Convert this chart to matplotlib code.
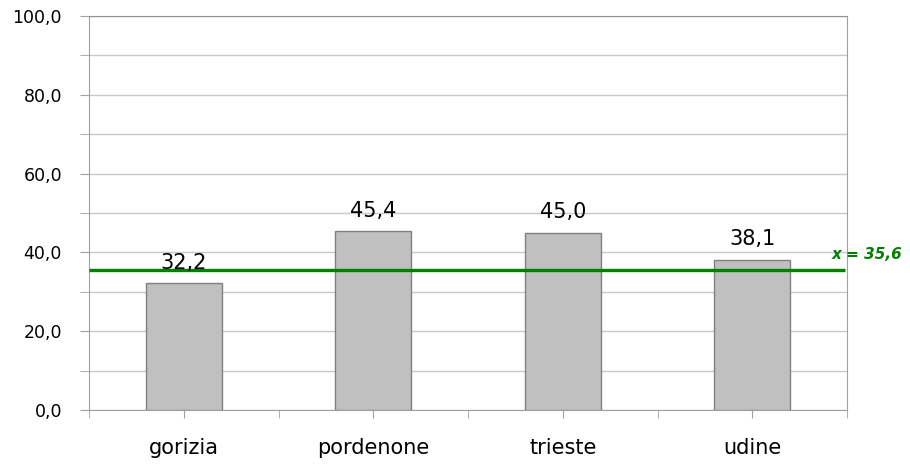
import numpy as np
import matplotlib
matplotlib.use('Agg')
import matplotlib.pyplot as plt

categories = ['gorizia', 'pordenone', 'trieste', 'udine']
values = [32.2, 45.4, 45.0, 38.1]
mean_value = 35.6
yticks_major = [0, 20, 40, 60, 80, 100]

plt.rcParams['font.family'] = ['DejaVu Sans']

fig = plt.figure(figsize=(9.1, 4.65), dpi=100)
ax = fig.add_axes([89 / 910, 1 - 410 / 465, (847 - 89) / 910, (410 - 16) / 465])

x = np.arange(len(categories))
ax.bar(x, values, width=0.4, color='#c0c0c0', edgecolor='#808080', linewidth=1.0, zorder=3)

# etichette dei valori
for xi, v in zip(x, values):
    ax.annotate(('%.1f' % v).replace('.', ','), (xi, v), textcoords='offset points',
                xytext=(0, 10.5), ha='center', va='baseline', fontsize=15, color='black', zorder=5)

# linea della media
ax.plot([-0.5, 3.49], [mean_value, mean_value], color='#008000', lw=2.4, zorder=4,
        solid_capstyle='butt', clip_on=False)
ax.text(3.605, 38.3, ('x = %.1f' % mean_value).replace('.', ','), color='#008000',
        fontsize=11, fontweight='bold', style='italic', ha='center', va='baseline')

ax.set_xlim(-0.5, 3.5)
ax.set_ylim(0, 100)
ax.set_yticks(yticks_major)
ax.set_yticklabels([('%.1f' % t).replace('.', ',') for t in yticks_major], fontsize=12.5)
ax.set_yticks(np.arange(0, 101, 10), minor=True)
ax.yaxis.grid(True, which='both', color='#c8c8c8', lw=1.0, zorder=0)
ax.set_axisbelow(True)
ax.tick_params(axis='y', which='both', length=6.5, color='#a0a0a0', pad=13)

ax.set_xticks(x)
ax.set_xticklabels(categories, fontsize=15)
ax.set_xticks(np.arange(-0.5, 3.6, 1.0), minor=True)
ax.tick_params(axis='x', which='both', length=6, color='#a0a0a0', pad=14)

for s in ['left', 'bottom', 'right']:
    ax.spines[s].set_color('#a0a0a0')
ax.spines['top'].set_color('#909090')

fig.savefig('out.png', dpi=100)
